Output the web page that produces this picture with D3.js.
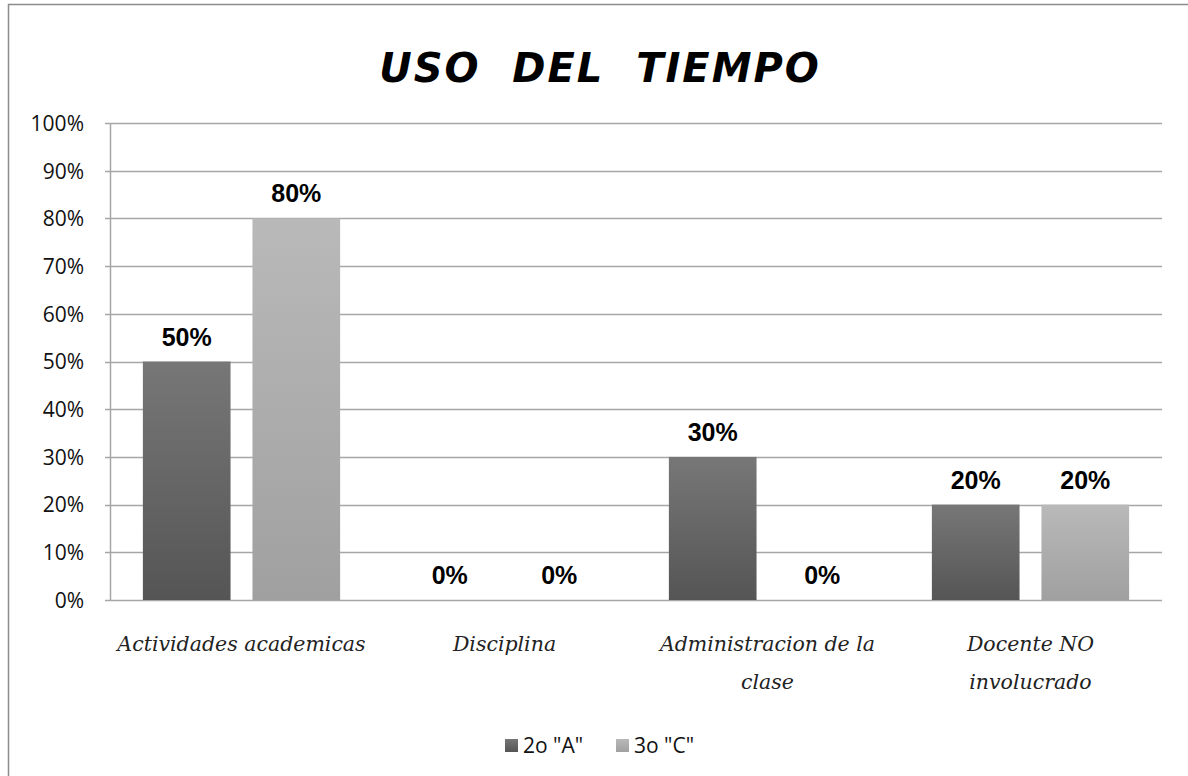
<!DOCTYPE html>
<html>
<head>
<meta charset="utf-8">
<script src="https://cdn.jsdelivr.net/npm/d3@7"></script>
<style>
  body { margin: 0; background: #fff; }
  .tick-label { font-family: 'Open Sans', 'Liberation Sans', sans-serif; font-size: 21px; fill: #111; }
  .cat-label { font-family: 'DejaVu Serif', 'Liberation Serif', serif; font-style: italic; font-size: 20.5px; fill: #222; }
  .val-label { font-family: 'Liberation Sans', Arial, sans-serif; font-weight: bold; font-size: 25px; fill: #000; }
  .legend { font-family: 'Open Sans', 'Liberation Sans', sans-serif; font-size: 21px; fill: #111; }
  .title { font-family: 'DejaVu Sans', sans-serif; font-weight: bold; font-style: italic; font-size: 40px; letter-spacing: 2px; white-space: pre; }
</style>
</head>
<body>
<div id="chart"></div>
<script>
  var width = 1188;
  var height = 776;

  // data
  var categories = [['Actividades academicas'], ['Disciplina'], ['Administracion de la', 'clase'], ['Docente NO', 'involucrado']];
  var seriesNames = ['2o "A"', '3o "C"'];
  var serieA = [0.5, 0, 0.3, 0.2];
  var serieC = [0.8, 0, 0, 0.2];
  var yTicks = [0, 0.1, 0.2, 0.3, 0.4, 0.5, 0.6, 0.7, 0.8, 0.9, 1];

  var margin = { left: 110, right: 1162, top: 123, bottom: 600 };

  var svg = d3.select('#chart').append('svg')
    .attr('width', width)
    .attr('height', height);

  // gradients for the bars
  var defs = svg.append('defs');
  var gradA = defs.append('linearGradient').attr('id', 'gA')
    .attr('x1', 0).attr('y1', 0).attr('x2', 0).attr('y2', 1);
  gradA.append('stop').attr('offset', '0%').attr('stop-color', '#777777');
  gradA.append('stop').attr('offset', '100%').attr('stop-color', '#555555');
  var gradC = defs.append('linearGradient').attr('id', 'gC')
    .attr('x1', 0).attr('y1', 0).attr('x2', 0).attr('y2', 1);
  gradC.append('stop').attr('offset', '0%').attr('stop-color', '#b9b9b9');
  gradC.append('stop').attr('offset', '100%').attr('stop-color', '#a0a0a0');

  // outer border
  svg.append('rect')
    .attr('x', 8.5).attr('y', 4.5)
    .attr('width', 1200).attr('height', 800)
    .attr('fill', 'none')
    .attr('stroke', '#8c8c8c')
    .attr('stroke-width', 1.5);

  // title
  svg.append('text')
    .attr('class', 'title')
    .attr('x', 600)
    .attr('y', 82)
    .attr('text-anchor', 'middle')
    .text('USO  DEL  TIEMPO');

  // scales
  var xScale = d3.scaleBand()
    .domain(d3.range(categories.length))
    .range([margin.left, margin.right]);

  var xSub = d3.scaleBand()
    .domain([0, 1])
    .range([0, xScale.bandwidth()])
    .paddingInner(0.2)
    .paddingOuter(0.3);

  var yScale = d3.scaleLinear()
    .domain([0, 1])
    .range([margin.bottom, margin.top]);

  // gridlines
  svg.append('g')
    .selectAll('line')
    .data(yTicks)
    .enter()
    .append('line')
    .attr('x1', margin.left - 5)
    .attr('x2', margin.right)
    .attr('y1', function(d) { return Math.round(yScale(d)) + 0.5; })
    .attr('y2', function(d) { return Math.round(yScale(d)) + 0.5; })
    .attr('stroke', '#a6a6a6')
    .attr('stroke-width', 1.5);

  // y axis
  var yAxis = d3.axisLeft(yScale)
    .tickValues(yTicks)
    .tickSize(0)
    .tickPadding(26)
    .tickFormat(d3.format('.0%'));

  var gy = svg.append('g')
    .attr('transform', 'translate(' + margin.left + ',0)')
    .call(yAxis);
  gy.select('.domain').attr('stroke', '#a6a6a6').attr('stroke-width', 1.5);
  gy.selectAll('text').attr('class', 'tick-label').attr('dy', '0.35em').attr('font-family', null).attr('font-size', null);

  // bars
  var series = [
    { name: seriesNames[0], values: serieA, fill: 'url(#gA)' },
    { name: seriesNames[1], values: serieC, fill: 'url(#gC)' }
  ];

  series.forEach(function(s, si) {
    var g = svg.append('g');
    g.selectAll('rect')
      .data(s.values)
      .enter()
      .append('rect')
      .attr('x', function(d, i) { return xScale(i) + xSub(si); })
      .attr('y', function(d) { return yScale(d); })
      .attr('width', xSub.bandwidth())
      .attr('height', function(d) { return yScale(0) - yScale(d); })
      .attr('fill', s.fill);

    g.selectAll('text')
      .data(s.values)
      .enter()
      .append('text')
      .attr('class', 'val-label')
      .attr('text-anchor', 'middle')
      .attr('x', function(d, i) { return xScale(i) + xSub(si) + xSub.bandwidth() / 2; })
      .attr('y', function(d) { return yScale(d) - 16; })
      .text(function(d) { return d3.format('.0%')(d); });
  });

  // category labels
  var cat = svg.append('g')
    .selectAll('text')
    .data(categories)
    .enter()
    .append('text')
    .attr('class', 'cat-label')
    .attr('text-anchor', 'middle')
    .attr('x', function(d, i) { return xScale(i) + xScale.bandwidth() / 2; })
    .attr('y', 651);

  cat.selectAll('tspan')
    .data(function(d) { return d; })
    .enter()
    .append('tspan')
    .attr('x', function() { return d3.select(this.parentNode).attr('x'); })
    .attr('dy', function(d, i) { return i === 0 ? 0 : 38; })
    .text(function(d) { return d; });

  // legend
  var legendX = [505, 616];
  var legend = svg.append('g')
    .selectAll('g')
    .data(series)
    .enter()
    .append('g')
    .attr('transform', function(d, i) { return 'translate(' + legendX[i] + ',739)'; });

  legend.append('rect')
    .attr('width', 13)
    .attr('height', 13)
    .attr('fill', function(d) { return d.fill; });

  legend.append('text')
    .attr('class', 'legend')
    .attr('x', 18)
    .attr('y', 14)
    .text(function(d) { return d.name; });
</script>
</body>
</html>
